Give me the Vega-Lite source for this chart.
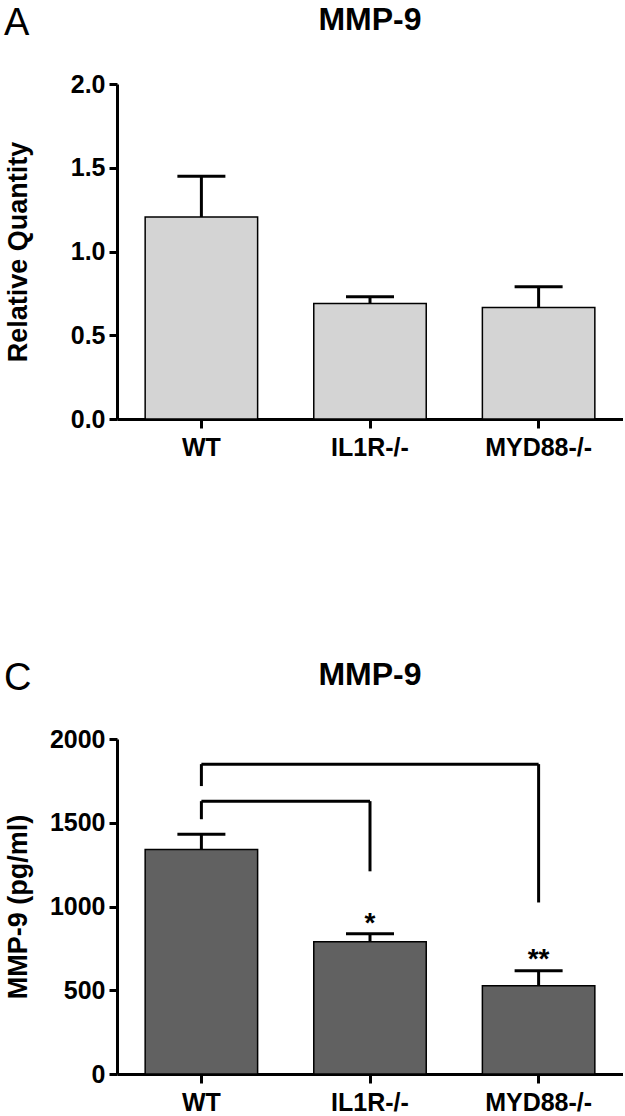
{
  "$schema": "https://vega.github.io/schema/vega-lite/v6.json",
  "padding": {"left": 4, "right": 0, "top": 4, "bottom": 0},
  "background": "white",
  "datasets": {
    "qpcr": [
      {"group": "WT", "value": 1.206, "upper": 1.45},
      {"group": "IL1R-/-", "value": 0.69, "upper": 0.73},
      {"group": "MYD88-/-", "value": 0.665, "upper": 0.79}
    ],
    "elisa": [
      {"group": "WT", "value": 1341, "upper": 1431},
      {"group": "IL1R-/-", "value": 790, "upper": 838, "star": "*", "star_y": 850},
      {"group": "MYD88-/-", "value": 527, "upper": 617, "star": "**", "star_y": 635}
    ],
    "hbars": [
      {"g1": "WT", "g2": "MYD88-/-", "y": 1850},
      {"g1": "WT", "g2": "IL1R-/-", "y": 1629}
    ],
    "legs": [
      {"g": "WT", "y1": 1719, "y2": 1850},
      {"g": "MYD88-/-", "y1": 1024, "y2": 1850},
      {"g": "WT", "y1": 1521, "y2": 1629},
      {"g": "IL1R-/-", "y1": 1210, "y2": 1629}
    ]
  },
  "config": {
    "view": {"stroke": null},
    "font": "Liberation Sans",
    "axis": {
      "domainColor": "black", "domainWidth": 3, "tickColor": "black", "tickWidth": 3,
      "labelFont": "Liberation Sans", "labelFontSize": 25, "labelFontWeight": "bold", "labelColor": "black",
      "titleFont": "Liberation Sans", "titleFontSize": 27, "titleFontWeight": "bold", "titleColor": "black",
      "grid": false
    },
    "axisX": {"tickSize": 9, "labelPadding": 7, "labelAngle": 0, "title": null},
    "axisY": {"tickSize": 8, "labelPadding": 4, "minExtent": 82, "maxExtent": 82, "titlePadding": 3},
    "title": {"font": "Liberation Sans", "color": "black"}
  },
  "spacing": 199,
  "vconcat": [
    {
      "title": {"text": "A", "anchor": "start", "frame": "bounds", "fontSize": 38, "fontWeight": "normal", "offset": 0, "dy": 39},
      "vconcat": [
        {
          "title": {"text": "MMP-9", "anchor": "middle", "frame": "group", "fontSize": 32, "fontWeight": "bold", "offset": 35},
          "width": 506, "height": 335,
          "data": {"name": "qpcr"},
          "encoding": {
            "x": {"field": "group", "type": "nominal", "sort": null,
                  "scale": {"paddingInner": 0.333, "paddingOuter": 0.167}},
            "y": {"type": "quantitative"}
          },
          "layer": [
            {"mark": {"type": "rule", "color": "black", "strokeWidth": 3},
             "encoding": {"y": {"field": "value", "type": "quantitative"}, "y2": {"field": "upper"}}},
            {"mark": {"type": "tick", "color": "black", "size": 48, "thickness": 3, "opacity": 1},
             "encoding": {"y": {"field": "upper", "type": "quantitative"}}},
            {"mark": {"type": "bar", "fill": "#d4d4d4", "stroke": "black", "strokeWidth": 1.5},
             "encoding": {"y": {"field": "value", "type": "quantitative",
                                "scale": {"domain": [0, 2], "nice": false},
                                "axis": {"values": [0, 0.5, 1, 1.5, 2], "format": ".1f", "title": "Relative Quantity"}}}}
          ]
        }
      ]
    },
    {
      "title": {"text": "C", "anchor": "start", "frame": "bounds", "fontSize": 38, "fontWeight": "normal", "offset": 0, "dy": 39},
      "vconcat": [
        {
          "title": {"text": "MMP-9", "anchor": "middle", "frame": "group", "fontSize": 32, "fontWeight": "bold", "offset": 35},
          "width": 506, "height": 335,
          "encoding": {
            "y": {"type": "quantitative"}
          },
          "layer": [
            {"data": {"name": "elisa"},
             "mark": {"type": "rule", "color": "black", "strokeWidth": 3},
             "encoding": {"x": {"field": "group", "type": "nominal", "sort": null},
                          "y": {"field": "value", "type": "quantitative"}, "y2": {"field": "upper"}}},
            {"data": {"name": "elisa"},
             "mark": {"type": "tick", "color": "black", "size": 48, "thickness": 3, "opacity": 1},
             "encoding": {"x": {"field": "group", "type": "nominal", "sort": null},
                          "y": {"field": "upper", "type": "quantitative"}}},
            {"data": {"name": "elisa"},
             "mark": {"type": "bar", "fill": "#616161", "stroke": "black", "strokeWidth": 1.5},
             "encoding": {"x": {"field": "group", "type": "nominal", "sort": null,
                                "scale": {"domain": ["WT", "IL1R-/-", "MYD88-/-"], "paddingInner": 0.333, "paddingOuter": 0.167}},
                          "y": {"field": "value", "type": "quantitative",
                                "scale": {"domain": [0, 2000], "nice": false},
                                "axis": {"values": [0, 500, 1000, 1500, 2000], "format": "d", "title": "MMP-9 (pg/ml)"}}}},
            {"data": {"name": "elisa"},
             "mark": {"type": "text", "fontSize": 28, "fontWeight": "bold", "baseline": "alphabetic", "color": "black"},
             "encoding": {"x": {"field": "group", "type": "nominal", "sort": null},
                          "y": {"field": "star_y", "type": "quantitative"},
                          "text": {"field": "star"}}},
            {"data": {"name": "hbars"},
             "mark": {"type": "rule", "color": "black", "strokeWidth": 3},
             "encoding": {"x": {"field": "g1", "type": "nominal", "bandPosition": 0.5},
                          "x2": {"field": "g2"},
                          "y": {"field": "y", "type": "quantitative"}}},
            {"data": {"name": "legs"},
             "mark": {"type": "rule", "color": "black", "strokeWidth": 3},
             "encoding": {"x": {"field": "g", "type": "nominal"},
                          "y": {"field": "y1", "type": "quantitative"}, "y2": {"field": "y2"}}}
          ]
        }
      ]
    }
  ]
}
